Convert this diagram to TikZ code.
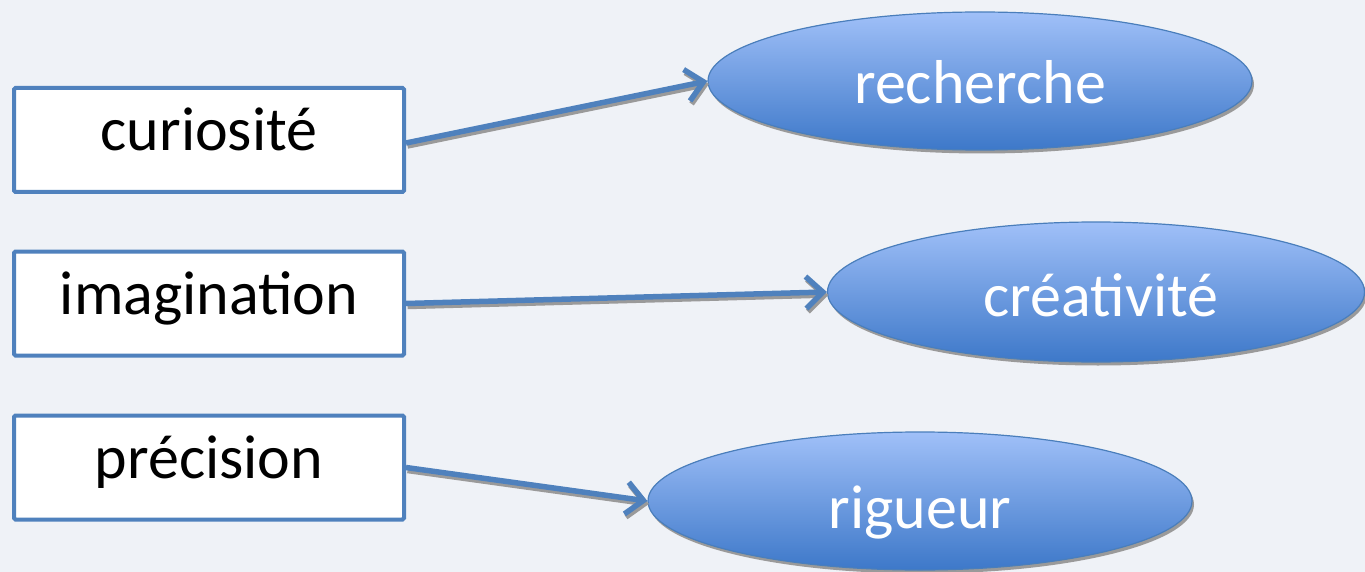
\documentclass[tikz,border=0pt]{standalone}
\usepackage{fontspec}
\setmainfont{Carlito}
\usetikzlibrary{shapes.geometric,arrows.meta,shadows}
\definecolor{pagebg}{HTML}{EFF2F7}
\definecolor{boxblue}{HTML}{4F81BD}
\definecolor{ovaltop}{HTML}{A0C0F8}
\definecolor{ovalbot}{HTML}{3D78C9}
\definecolor{ovalline}{HTML}{4A7EBB}
\definecolor{shade}{HTML}{9A9A9A}
\tikzset{
  word/.style={font=\fontsize{62}{70}\selectfont},
  quality/.style={word, draw=boxblue, line width=4pt, fill=white, rounded corners=1.5pt,
    minimum width=390pt, minimum height=104pt, inner sep=0pt, text=black,
    text height=46pt, text depth=24pt},
  outcome/.style={word, ellipse, draw=ovalline, line width=1.2pt,
    top color=ovaltop, bottom color=ovalbot, text=white, inner sep=0pt,
    general shadow={fill=shade, draw=none, shadow xshift=2pt, shadow yshift=-3.5pt}},
  caption/.style={word, text=white, text height=42pt, text depth=0pt, inner sep=0pt},
  link/.style={draw=boxblue, line width=5.5pt,
    -{Straight Barb[length=17pt,width=32pt,line width=5.5pt]}},
  linkshadow/.style={link, draw=shade, transform canvas={shift={(1.5pt,-3pt)}}},
}
\begin{document}
\begin{tikzpicture}[x=1pt,y=-1pt]
  \fill[pagebg] (0,0) rectangle (1365,572);
  \useasboundingbox (0,0) rectangle (1365,572);

  % left column: qualities
  \node[quality] (cur) at (209,140) {curiosité};
  \node[quality] (ima) at (209,303.5) {imagination};
  \node[quality] (pre) at (209,467.5) {précision};

  % right column: outcomes
  \node[outcome, minimum width=544pt, minimum height=138pt] (rec) at (980,81) {};
  \node[caption, anchor=base] (rect) at (980,104) {recherche};
  \node[outcome, minimum width=537pt, minimum height=140pt] (cre) at (1096,292) {};
  \node[caption, anchor=base] (cret) at (1101,316) {créativité};
  \node[outcome, minimum width=544pt, minimum height=138pt] (rig) at (920,501) {};
  \node[caption, anchor=base] (rigt) at (920,528) {rigueur};

  % connectors with their grey shadows
  \coordinate (cur-out) at ([yshift=-3pt]cur.east);
  \coordinate (pre-out) at (pre.east);
  \draw[linkshadow] (cur-out) -- (rec.west);
  \draw[linkshadow] (ima.east) -- (cre.west);
  \draw[linkshadow] (pre-out) -- (rig.west);
  \draw[link] (cur-out) -- (rec.west);
  \draw[link] (ima.east) -- (cre.west);
  \draw[link] (pre-out) -- (rig.west);
\end{tikzpicture}
\end{document}
